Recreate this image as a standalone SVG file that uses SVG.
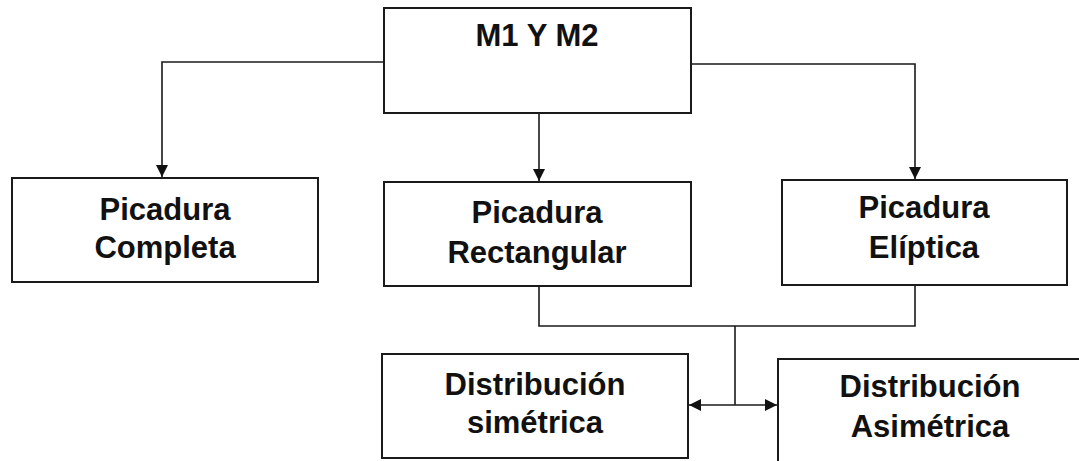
<svg xmlns="http://www.w3.org/2000/svg" width="1079" height="461" viewBox="0 0 1079 461">
<style>
.box{fill:#fff;stroke:#1a1a1a;stroke-width:2}
.lbl{font-family:"Liberation Sans",Arial,sans-serif;font-weight:bold;font-size:31px;fill:#111;text-anchor:middle}
.con{fill:none;stroke:#1a1a1a;stroke-width:1.6}
</style>
<defs>
<marker id="ah" viewBox="0 0 12 12" refX="12" refY="6" markerWidth="12" markerHeight="12" markerUnits="userSpaceOnUse" orient="auto-start-reverse">
<path d="M0,0 L12,6 L0,12 Z" fill="#111"/>
</marker>
</defs>
<g id="connectors">
<path class="con" d="M384,62 H162 V177" marker-end="url(#ah)"/>
<path class="con" d="M539,113 V181" marker-end="url(#ah)"/>
<path class="con" d="M691,64 H915 V179" marker-end="url(#ah)"/>
<path class="con" d="M539,286 V326 H915 V285"/>
<path class="con" d="M735,326 V405"/>
<path class="con" d="M689,405 H777" marker-start="url(#ah)" marker-end="url(#ah)"/>
</g>
<g id="n-top">
<rect class="box" x="384" y="8" width="307" height="105"/>
<text class="lbl" x="537" y="46">M1 Y M2</text>
</g>
<g id="n-completa">
<rect class="box" x="12" y="178" width="306" height="104"/>
<text class="lbl" x="165" y="220">Picadura</text>
<text class="lbl" x="165" y="258">Completa</text>
</g>
<g id="n-rect">
<rect class="box" x="384" y="182" width="307" height="104"/>
<text class="lbl" x="537" y="223">Picadura</text>
<text class="lbl" x="537" y="263">Rectangular</text>
</g>
<g id="n-elip">
<rect class="box" x="782" y="180" width="285" height="105"/>
<text class="lbl" x="924" y="218">Picadura</text>
<text class="lbl" x="924" y="258">Elíptica</text>
</g>
<g id="n-sim">
<rect class="box" x="382" y="354" width="306" height="104"/>
<text class="lbl" x="535" y="395">Distribución</text>
<text class="lbl" x="535" y="433">simétrica</text>
</g>
<g id="n-asim">
<rect class="box" x="778" y="359" width="306" height="106"/>
<text class="lbl" x="930" y="397">Distribución</text>
<text class="lbl" x="930" y="437">Asimétrica</text>
</g>
</svg>
